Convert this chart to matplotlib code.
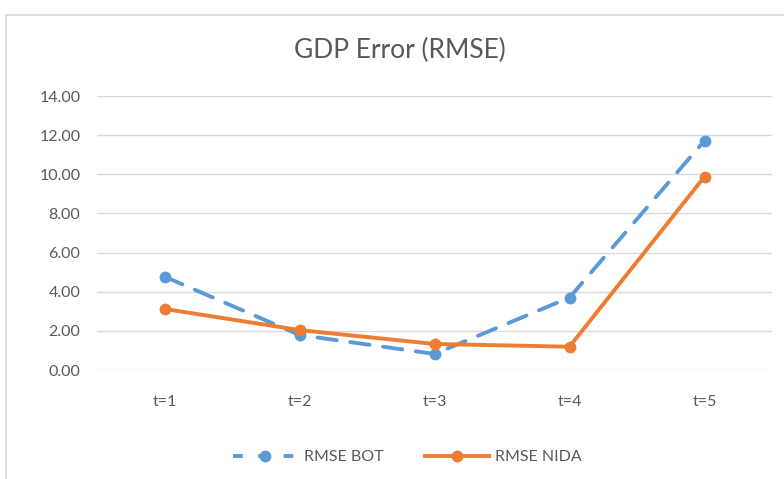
import matplotlib.pyplot as plt
from matplotlib.patches import Rectangle
from matplotlib.lines import Line2D

categories = ["t=1", "t=2", "t=3", "t=4", "t=5"]
rmse_bot = [4.77, 1.79, 0.82, 3.70, 11.72]
rmse_nida = [3.12, 2.04, 1.33, 1.19, 9.88]
yticks = [0, 2, 4, 6, 8, 10, 12, 14]

BLUE = "#5B9BD5"
ORANGE = "#ED7D31"
GRAY = "#595959"

plt.rcParams["font.family"] = ["Lato", "DejaVu Sans"]

fig = plt.figure(figsize=(7.84, 4.79), dpi=100)
# chart border (Excel-style frame)
fig.patches.append(Rectangle((6 / 784, -0.1), 1.0, 1 - 15 / 479 + 0.1,
                             transform=fig.transFigure, fill=False,
                             edgecolor="#D9D9D9", lw=1.2))

ax = fig.add_axes([97 / 784, 1 - 370 / 479, 675 / 784, 274 / 479])
x = range(len(categories))
ax.plot(x, rmse_bot, color=BLUE, lw=2.8, dashes=(5, 3.5), dash_capstyle="round",
        marker="o", markersize=7.5, label="RMSE BOT", zorder=3)
ax.plot(x, rmse_nida, color=ORANGE, lw=2.8, marker="o", markersize=7.5,
        label="RMSE NIDA", zorder=4)

ax.set_xlim(-0.5, len(categories) - 0.5)
ax.set_ylim(0, 14)
ax.set_yticks(yticks)
ax.set_yticklabels([f"{v:.2f}" for v in yticks])
ax.set_xticks(list(x))
ax.set_xticklabels(categories)
ax.tick_params(length=0, colors=GRAY, labelsize=11.5)
ax.tick_params(axis="y", pad=12)
ax.tick_params(axis="x", pad=18)
ax.grid(axis="y", color="#D9D9D9", lw=1)
ax.set_axisbelow(True)
for s in ax.spines.values():
    s.set_visible(False)

fig.text(0.51, 1 - 50 / 479, "GDP Error (RMSE)", ha="center", va="center",
         fontsize=19, color=GRAY)

handles = [
    Line2D([], [], color=BLUE, lw=2.8, dashes=(2.5, 4), marker="o", markersize=7.5),
    Line2D([], [], color=ORANGE, lw=2.8, marker="o", markersize=7.5),
]
fig.legend(handles, ["RMSE BOT", "RMSE NIDA"], loc="center",
           bbox_to_anchor=(0.52, 1 - 457 / 479), ncol=2, frameon=False,
           fontsize=11.5, labelcolor=GRAY, handlelength=4.0, columnspacing=2.6,
           handletextpad=0.4)

fig.savefig("out.png", dpi=100)
